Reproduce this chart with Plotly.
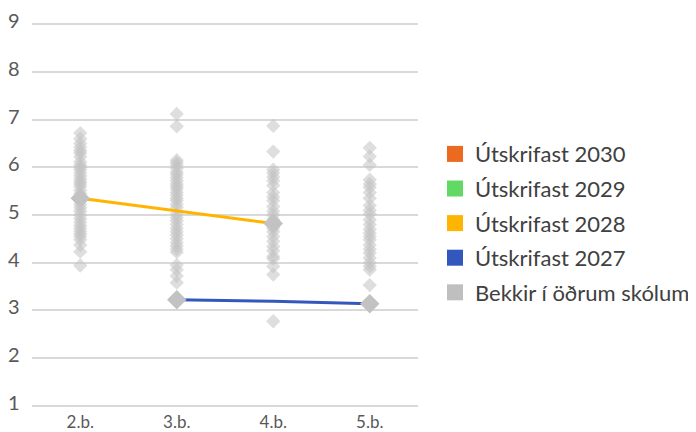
import plotly.graph_objects as go

categories = ["2.b.", "3.b.", "4.b.", "5.b."]
y_ticks = [1, 2, 3, 4, 5, 6, 7, 8, 9]

# Other schools' classes (grey diamonds), per grade
other_2b = [6.72, 6.6, 6.5, 6.42, 6.35, 6.3, 6.22, 6.12, 6.05, 6.0, 5.95, 5.88, 5.82, 5.75,
            5.7, 5.65, 5.6, 5.52, 5.45, 5.3, 5.22, 5.15, 5.08, 5.0, 4.92, 4.85, 4.78,
            4.72, 4.66, 4.6, 4.55, 4.48, 4.37, 4.23, 3.94]
other_3b = [7.12, 6.86, 6.15, 6.1, 6.05, 5.98, 5.9, 5.85, 5.78, 5.72, 5.65, 5.6, 5.55, 5.48,
            5.42, 5.35, 5.3, 5.22, 5.15, 5.02, 4.95, 4.88, 4.8, 4.72, 4.65, 4.58,
            4.5, 4.42, 4.35, 4.28, 4.22, 3.95, 3.85, 3.72, 3.58]
other_4b = [6.87, 6.33, 5.95, 5.88, 5.8, 5.72, 5.62, 5.47, 5.38, 5.3, 5.18, 5.08, 5.0,
            4.9, 4.72, 4.65, 4.55, 4.45, 4.34, 4.25, 4.13, 4.08, 3.92, 3.75, 2.77]
other_5b = [6.41, 6.23, 6.05, 5.74, 5.65, 5.58, 5.47, 5.35, 5.2, 5.1, 5.02, 4.9, 4.8,
            4.7, 4.62, 4.55, 4.48, 4.37, 4.28, 4.2, 4.1, 4.0, 3.92, 3.85, 3.53]

# School's own cohorts
cohort_2028 = [5.35, 5.08, 4.82, None]
cohort_2027 = [None, 3.22, 3.19, 3.14]

series_names = ["Útskrifast 2030", "Útskrifast 2029", "Útskrifast 2028", "Útskrifast 2027",
                "Bekkir í öðrum skólum"]
series_colors = ["#EC6A1F", "#63D965", "#FFB400", "#3457BE", "#BFBFBF"]

font_family = "Lato, 'Noto Sans', sans-serif"
text_color = "#595959"

fig = go.Figure()

# grey scatter
gx, gy = [], []
for cat, vals in zip(categories, [other_2b, other_3b, other_4b, other_5b]):
    gx += [cat] * len(vals)
    gy += vals
fig.add_trace(go.Scatter(
    x=gx, y=gy, mode="markers", showlegend=False, hoverinfo="y",
    marker=dict(symbol="diamond", size=11, color="#C2C2C2", opacity=0.55, line=dict(width=0)),
))

# cohort lines
fig.add_trace(go.Scatter(x=categories, y=cohort_2028, mode="lines", showlegend=False,
                         line=dict(color=series_colors[2], width=3), connectgaps=False))
fig.add_trace(go.Scatter(x=categories, y=cohort_2027, mode="lines", showlegend=False,
                         line=dict(color=series_colors[3], width=3), connectgaps=False))

# endpoint diamonds (grey, larger)
ex, ey = [], []
for series in [cohort_2028, cohort_2027]:
    pts = [(c, v) for c, v in zip(categories, series) if v is not None]
    for c, v in (pts[0], pts[-1]):
        ex.append(c)
        ey.append(v)
fig.add_trace(go.Scatter(x=ex, y=ey, mode="markers", showlegend=False,
                         marker=dict(symbol="diamond", size=15, color="#C2C2C2", line=dict(width=0))))

# legend entries
for i, (name, col) in enumerate(zip(series_names, series_colors)):
    fig.add_trace(go.Scatter(x=[None], y=[None], mode="markers", name=name,
                             legendgroup=f"g{i}", showlegend=True,
                             marker=dict(symbol="square", size=16, color=col)))

# y tick labels (slightly raised above gridlines, as in the reference)
for v in y_ticks:
    fig.add_annotation(x=0, xref="paper", xanchor="right", xshift=-10,
                       y=v, yref="y", yanchor="middle", yshift=4,
                       text=str(v), showarrow=False,
                       font=dict(size=20, color=text_color, family=font_family))

# The page body adds an 8px margin, so the figure is sized 8px smaller.
fig.update_layout(
    width=688, height=424,
    margin=dict(l=24, r=278, t=14, b=24, autoexpand=False),
    plot_bgcolor="white", paper_bgcolor="white",
    font=dict(family=font_family, color=text_color),
    legend=dict(x=1.044, xanchor="left", y=0.479, yanchor="middle",
                font=dict(size=22, color="#404040"), traceorder="grouped",
                tracegroupgap=3, itemsizing="trace", bgcolor="rgba(0,0,0,0)"),
    xaxis=dict(type="category", categoryorder="array", categoryarray=categories,
               range=[-0.5, 3.5], showgrid=False, zeroline=False, showline=False,
               automargin=False, ticks="", ticklabelstandoff=2,
               tickfont=dict(size=17, color=text_color)),
    yaxis=dict(range=[0.95, 9.05], tickvals=y_ticks, showticklabels=False,
               showgrid=True, gridcolor="#D9D9D9",
               gridwidth=1.5, zeroline=False, showline=False, ticks="", automargin=False),
)

fig.write_html("out.html")
